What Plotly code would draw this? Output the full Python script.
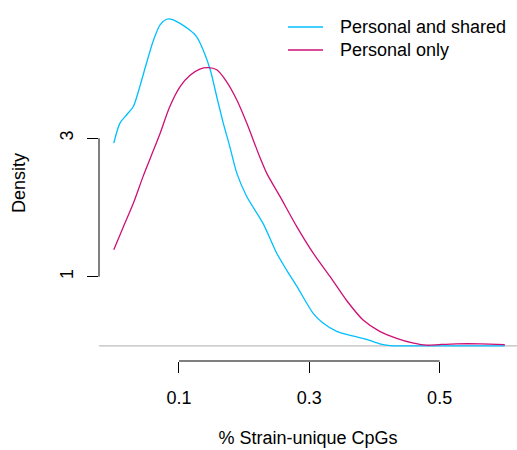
import plotly.graph_objects as go

# Density curve: Personal and shared
shared_x = [0.0, 0.0095, 0.0198, 0.030, 0.040, 0.050, 0.061, 0.071, 0.081, 0.089, 0.1016, 0.117,
            0.127, 0.137, 0.148, 0.158, 0.168, 0.178, 0.189, 0.204, 0.229, 0.250, 0.265, 0.281,
            0.306, 0.321, 0.342, 0.368, 0.388, 0.408, 0.424, 0.45, 0.5, 0.55, 0.6]
shared_y = [2.93, 3.22, 3.34, 3.46, 3.75, 4.08, 4.42, 4.64, 4.72, 4.72, 4.66, 4.56,
            4.47, 4.28, 3.99, 3.60, 3.22, 2.88, 2.49, 2.16, 1.77, 1.34, 1.10, 0.86,
            0.47, 0.33, 0.21, 0.14, 0.095, 0.03, 0.005, 0.0, 0.0, 0.0, 0.0]

# Density curve: Personal only
only_x = [0.0, 0.0146, 0.030, 0.045, 0.061, 0.071, 0.086, 0.102, 0.117, 0.132, 0.145, 0.158,
          0.173, 0.189, 0.204, 0.224, 0.235, 0.255, 0.281, 0.306, 0.332, 0.357, 0.383,
          0.408, 0.434, 0.460, 0.480, 0.50, 0.526, 0.562, 0.60]
only_y = [1.39, 1.72, 2.06, 2.45, 2.83, 3.07, 3.46, 3.75, 3.91, 4.00, 4.02, 3.99,
          3.82, 3.55, 3.22, 2.73, 2.49, 2.16, 1.72, 1.34, 1.0, 0.66, 0.37,
          0.21, 0.11, 0.04, 0.01, 0.02, 0.03, 0.03, 0.02]

x_ticks = [0.1, 0.3, 0.5]
x_tick_labels = ["0.1", "0.3", "0.5"]
y_ticks = [1, 3]
y_tick_labels = ["1", "3"]

series_names = ["Personal and shared", "Personal only"]
colors = ["#00BFFF", "#CD1076"]

FONT = "Liberation Sans, Arial, sans-serif"
FS = 18

fig = go.Figure()
fig.add_trace(go.Scatter(x=shared_x, y=shared_y, mode="lines", name=series_names[0],
                         line=dict(color=colors[0], width=1.3, shape="spline", smoothing=0.8),
                         showlegend=False, hoverinfo="skip"))
fig.add_trace(go.Scatter(x=only_x, y=only_y, mode="lines", name=series_names[1],
                         line=dict(color=colors[1], width=1.3, shape="spline", smoothing=0.8),
                         showlegend=False, hoverinfo="skip"))

shapes = [
    dict(type="line", xref="paper", x0=0, x1=1, yref="y", y0=0, y1=0,
         line=dict(color="#BEBEBE", width=1.3), layer="below"),
    dict(type="line", xref="x", x0=x_ticks[0], x1=x_ticks[-1], yref="paper", y0=0, y1=0,
         line=dict(color="black", width=1)),
    dict(type="line", xref="paper", x0=0, x1=0, yref="y", y0=y_ticks[0], y1=y_ticks[-1],
         line=dict(color="black", width=1)),
]

legend_y_px = [27, 50]
annotations = []
H = 450
plot_top, plot_bottom = 5, 361
plot_left, plot_right = 99, 517
def px_to_paper_x(px):
    return (px - plot_left) / (plot_right - plot_left)
def px_to_paper_y(py):
    return (plot_bottom - py) / (plot_bottom - plot_top)

for name, col, py in zip(series_names, colors, legend_y_px):
    shapes.append(dict(type="line", xref="paper", yref="paper",
                       x0=px_to_paper_x(288), x1=px_to_paper_x(323),
                       y0=px_to_paper_y(py), y1=px_to_paper_y(py),
                       line=dict(color=col, width=1.3)))
    annotations.append(dict(text=name, xref="paper", yref="paper",
                            x=px_to_paper_x(338), y=px_to_paper_y(py),
                            xanchor="left", yanchor="middle", showarrow=False,
                            font=dict(size=FS, color="black", family=FONT)))

fig.update_layout(
    width=517, height=450,
    margin=dict(l=plot_left, r=0, t=plot_top, b=H - plot_bottom, pad=0),
    paper_bgcolor="white", plot_bgcolor="white",
    font=dict(family=FONT, size=FS, color="black"),
    shapes=shapes, annotations=annotations,
    xaxis=dict(range=[-0.0227, 0.6187], showgrid=False, zeroline=False, showline=False,
               tickvals=x_ticks, ticktext=x_tick_labels, ticks="outside", ticklen=11,
               tickcolor="black", tickwidth=1, ticklabelstandoff=9,
               title=dict(text="% Strain-unique CpGs", standoff=24,
                          font=dict(size=FS, family=FONT))),
    yaxis=dict(range=[-0.218, 4.926], showgrid=False, zeroline=False, showline=False,
               tickvals=y_ticks, ticktext=y_tick_labels, ticks="outside", ticklen=11,
               tickcolor="black", tickwidth=1, tickangle=-90, ticklabelstandoff=7,
               title=dict(text="Density", standoff=26, font=dict(size=FS, family=FONT))),
)

fig.write_html("out.html", config={"displayModeBar": False},
               post_script="document.body.style.margin='0';document.body.style.overflow='hidden';")
